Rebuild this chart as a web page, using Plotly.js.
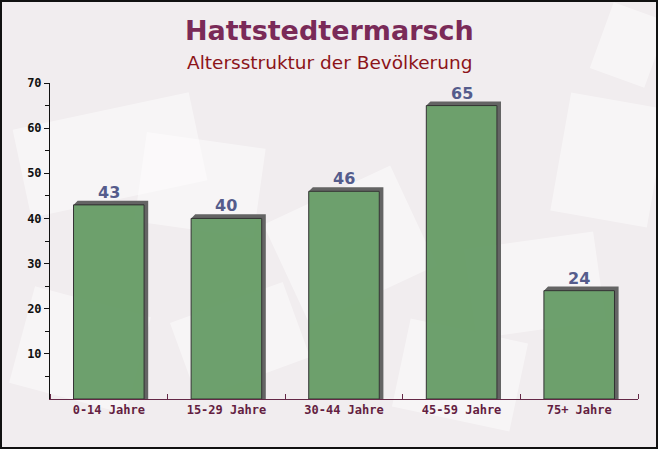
<!DOCTYPE html>
<html><head><meta charset="utf-8">
<script src="https://cdn.plot.ly/plotly-3.0.1.min.js"></script>
<style>html,body{margin:0;padding:0;background:#f3eff1;}</style>
</head><body><div id="chart" style="width:658px;height:449px;"></div>
<script>
const categories = ["0-14 Jahre","15-29 Jahre","30-44 Jahre","45-59 Jahre","75+ Jahre"];
const values = [43, 40, 46, 65, 24];
const yTickVals = [10,20,30,40,50,60,70];
const titleText = "Hattstedtermarsch";
const subtitleText = "Altersstruktur der Bevölkerung";

const W = 658, H = 449, mL = 50, mR = 20, mT = 83, mB = 50;
const pw = W - mL - mR, ph = H - mT - mB;
const px = x => (x - mL) / pw;          // container px -> paper x
const py = y => (H - mB - y) / ph;      // container px -> paper y
const idx = categories.map((c,i)=>i);
const barW = 0.6, dx = 0.035, dy = 0.9;

// faint decorative background "envelope" tiles (container pixel boxes)
const deco = [[20,110,200,200,-12],[140,140,260,230,8],[280,190,420,300,-25],[560,100,658,220,10],[470,240,600,330,-8],[20,300,140,400,15],[180,300,300,380,-20],[600,10,658,80,20],[400,330,520,420,12]];
const shapes = deco.map(d=>{
  const [x0,y0,x1,y1,a] = d, cx=(x0+x1)/2, cy=(y0+y1)/2, r=a*Math.PI/180;
  const pts = [[x0,y0],[x1,y0],[x1,y1],[x0,y1]].map(([x,y])=>{
    const X = cx+(x-cx)*Math.cos(r)-(y-cy)*Math.sin(r), Y = cy+(x-cx)*Math.sin(r)+(y-cy)*Math.cos(r);
    return px(X)+','+py(Y);
  });
  return {type:'path', xref:'paper', yref:'paper', layer:'below', path:'M '+pts.join(' L ')+' Z',
    fillcolor:'rgba(255,255,255,0.45)', line:{width:0}};
});
values.forEach((v,i)=>shapes.push({
  type:'path', xref:'x', yref:'y', layer:'below',
  path:`M ${i-barW/2},${v} L ${i-barW/2+dx},${v+dy} L ${i+barW/2+dx},${v+dy} L ${i+barW/2+dx},0 L ${i+barW/2},0 L ${i+barW/2},${v} Z`,
  fillcolor:'rgb(100,100,100)', line:{width:0}
}));
shapes.push({type:'rect', xref:'paper', yref:'paper',
  x0:px(1), x1:px(W-1), y0:py(H-1), y1:py(1),
  line:{color:'#111', width:2}, fillcolor:'rgba(0,0,0,0)', layer:'above'});
const annotations = values.map((v,i)=>({
  x:i, y:v+dy, xref:'x', yref:'y', text:String(v), showarrow:false, yanchor:'bottom', yshift:-3,
  font:{family:'DejaVu Sans', size:16, color:'rgb(85,92,140)', weight:'bold'}
}));
annotations.push({xref:'paper', yref:'paper', x:px(W/2), y:py(30), xanchor:'center', yanchor:'middle',
  text:'<b>'+titleText+'</b>', showarrow:false, font:{family:'DejaVu Sans', size:27, color:'rgb(122,42,88)'}});
annotations.push({xref:'paper', yref:'paper', x:px(W/2), y:py(62), xanchor:'center', yanchor:'middle',
  text:subtitleText, showarrow:false, font:{family:'DejaVu Sans', size:18.5, color:'rgb(140,20,25)'}});

Plotly.newPlot('chart', [{
  type:'bar', x:idx, y:values, width:barW,
  marker:{color:'rgb(102,156,102)', opacity:0.95, line:{color:'#2a2a2a', width:1}},
  hoverinfo:'none'
}], {
  width:W, height:H,
  margin:{l:mL, r:mR, t:mT, b:mB},
  paper_bgcolor:'#f1edef', plot_bgcolor:'rgba(0,0,0,0)',
  showlegend:false,
  xaxis:{range:[-0.5,4.5], tickmode:'array', tickvals:idx, ticktext:categories, ticks:'',
    showgrid:false, zeroline:false, showline:true, linecolor:'rgb(100,40,70)', linewidth:1,
    tickfont:{family:'DejaVu Sans Mono', size:12, color:'rgb(100,30,65)', weight:'bold'},
    minor:{tickmode:'linear', tick0:0.5, dtick:1, ticks:'inside', ticklen:5, tickcolor:'rgb(100,40,70)', showgrid:false}},
  yaxis:{range:[0,70], tickmode:'array', tickvals:yTickVals, ticks:'outside', ticklen:5, tickcolor:'#111',
    showgrid:false, zeroline:false, showline:true, linecolor:'#111', linewidth:1,
    tickfont:{family:'DejaVu Sans Mono', size:12, color:'#111', weight:'bold'},
    minor:{tickmode:'linear', tick0:5, dtick:10, ticks:'outside', ticklen:4, tickcolor:'#111', showgrid:false}},
  shapes:shapes, annotations:annotations
}, {staticPlot:true});
</script></body></html>
